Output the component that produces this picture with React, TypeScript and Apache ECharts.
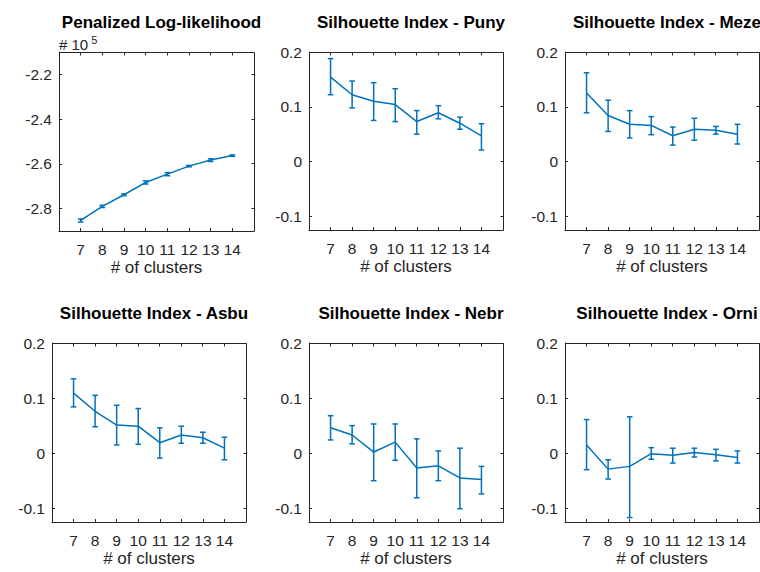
import React, { useEffect, useRef } from "react";
import * as echarts from "echarts";

const clusters = [7, 8, 9, 10, 11, 12, 13, 14];

// Penalized log-likelihood (in units of 10^5)
const llMean = [-2.853, -2.79, -2.738, -2.683, -2.646, -2.61, -2.583, -2.563];
const llLow = [-2.86, -2.795, -2.742, -2.69, -2.653, -2.613, -2.589, -2.566];
const llHigh = [-2.846, -2.785, -2.734, -2.676, -2.639, -2.607, -2.577, -2.56];

const punyMean = [0.154, 0.122, 0.11, 0.104, 0.073, 0.089, 0.07, 0.047];
const punyLow = [0.122, 0.098, 0.075, 0.073, 0.05, 0.078, 0.059, 0.021];
const punyHigh = [0.188, 0.147, 0.144, 0.133, 0.093, 0.102, 0.081, 0.069];

const mezeMean = [0.125, 0.084, 0.068, 0.066, 0.047, 0.059, 0.057, 0.05];
const mezeLow = [0.089, 0.055, 0.043, 0.049, 0.03, 0.039, 0.05, 0.032];
const mezeHigh = [0.162, 0.112, 0.093, 0.082, 0.063, 0.079, 0.064, 0.068];

const asbuMean = [0.109, 0.076, 0.051, 0.049, 0.019, 0.033, 0.028, 0.009];
const asbuLow = [0.084, 0.048, 0.015, 0.016, -0.009, 0.018, 0.018, -0.012];
const asbuHigh = [0.135, 0.105, 0.087, 0.081, 0.046, 0.049, 0.038, 0.029];

const nebrMean = [0.046, 0.033, 0.002, 0.02, -0.027, -0.023, -0.045, -0.048];
const nebrLow = [0.024, 0.017, -0.05, -0.013, -0.081, -0.05, -0.101, -0.074];
const nebrHigh = [0.068, 0.05, 0.053, 0.053, 0.026, 0.004, 0.009, -0.024];

const orniMean = [0.015, -0.029, -0.024, -0.001, -0.004, 0.001, -0.003, -0.008];
const orniLow = [-0.03, -0.047, -0.117, -0.011, -0.018, -0.007, -0.014, -0.018];
const orniHigh = [0.061, -0.012, 0.066, 0.01, 0.009, 0.009, 0.007, 0.004];

const siTicks = [-0.1, 0, 0.1, 0.2];
const llTicks = [-2.8, -2.6, -2.4, -2.2];

const titles = [
  "Penalized Log-likelihood",
  "Silhouette Index - Puny",
  "Silhouette Index - Meze",
  "Silhouette Index - Asbu",
  "Silhouette Index - Nebr",
  "Silhouette Index - Orni",
];
const xName = "# of clusters";

const FONT = "'Liberation Sans', Helvetica, Arial, sans-serif";
const AXIS = "#262626";
const BLUE = "#0072BD";
const X_MIN = 6;
const X_MAX = 15;

export default function App() {
  const ref = useRef<HTMLDivElement>(null);
  useEffect(() => {
    if (!ref.current) return;
    const chart = echarts.init(ref.current, null, { renderer: "svg" });

    const panels = [
      { mean: llMean, low: llLow, high: llHigh, ymin: -2.9, ymax: -2.1, ticks: llTicks, left: 59, top: 52, width: 195, height: 179 },
      { mean: punyMean, low: punyLow, high: punyHigh, ymin: -0.125, ymax: 0.2, ticks: siTicks, left: 309, top: 52, width: 194, height: 178 },
      { mean: mezeMean, low: mezeLow, high: mezeHigh, ymin: -0.125, ymax: 0.2, ticks: siTicks, left: 565, top: 52, width: 194, height: 178 },
      { mean: asbuMean, low: asbuLow, high: asbuHigh, ymin: -0.125, ymax: 0.2, ticks: siTicks, left: 52, top: 343, width: 194, height: 179 },
      { mean: nebrMean, low: nebrLow, high: nebrHigh, ymin: -0.125, ymax: 0.2, ticks: siTicks, left: 309, top: 343, width: 194, height: 179 },
      { mean: orniMean, low: orniLow, high: orniHigh, ymin: -0.125, ymax: 0.2, ticks: siTicks, left: 565, top: 343, width: 194, height: 179 },
    ];

    const grid: any[] = [];
    const xAxis: any[] = [];
    const yAxis: any[] = [];
    const series: any[] = [];
    const title: any[] = [];

    panels.forEach((p, i) => {
      grid.push({ left: p.left, top: p.top, width: p.width, height: p.height });
      xAxis.push({
        type: "value",
        gridIndex: i,
        min: X_MIN,
        max: X_MAX,
        position: "bottom",
        splitLine: { show: false },
        axisLine: { show: true, onZero: false, lineStyle: { color: AXIS, width: 1 } },
        axisTick: { show: true, inside: true, length: 3, customValues: clusters, lineStyle: { color: AXIS } },
        name: xName,
        nameLocation: "middle",
        nameGap: 28,
        nameTextStyle: { fontFamily: FONT, fontSize: 17, color: AXIS },
        axisLabel: { show: true, customValues: clusters, margin: 10, fontFamily: FONT, fontSize: 15.5, color: AXIS },
      });
      yAxis.push({
        type: "value",
        gridIndex: i,
        min: p.ymin,
        max: p.ymax,
        position: "left",
        splitLine: { show: false },
        axisLine: { show: true, lineStyle: { color: AXIS, width: 1 } },
        axisTick: { show: true, inside: true, length: 3, customValues: p.ticks, lineStyle: { color: AXIS } },
        axisLabel: {
          show: true,
          customValues: p.ticks,
          margin: 7,
          fontFamily: FONT,
          fontSize: 15.5,
          color: AXIS,
          formatter: (v: number) => String(Math.round(v * 1000) / 1000),
        },
      });

      series.push({
        type: "line",
        xAxisIndex: i,
        yAxisIndex: i,
        data: clusters.map((c, k) => [c, p.mean[k]]),
        symbol: "none",
        lineStyle: { color: BLUE, width: 1.5 },
        z: 3,
      });
      series.push({
        type: "custom",
        xAxisIndex: i,
        yAxisIndex: i,
        data: clusters.map((c, k) => [c, p.low[k], p.high[k]]),
        renderItem: (params: any, api: any) => {
          const x = api.value(0);
          const lo = api.coord([x, api.value(1)]);
          const hi = api.coord([x, api.value(2)]);
          const hw = 2.8;
          const st = { stroke: BLUE, lineWidth: 1.5 };
          return {
            type: "group",
            children: [
              { type: "line", shape: { x1: lo[0], y1: lo[1], x2: hi[0], y2: hi[1] }, style: st },
              { type: "line", shape: { x1: lo[0] - hw, y1: lo[1], x2: lo[0] + hw, y2: lo[1] }, style: st },
              { type: "line", shape: { x1: hi[0] - hw, y1: hi[1], x2: hi[0] + hw, y2: hi[1] }, style: st },
            ],
          };
        },
        encode: { x: 0, y: [1, 2] },
        z: 4,
      });

      title.push({
        text: titles[i],
        left: p.left + p.width / 2,
        top: i < 3 ? 9 : 300,
        textAlign: "center",
        textStyle: { fontFamily: FONT, fontSize: 17, fontWeight: "bold", color: "#000" },
      });
    });

    chart.setOption({
      animation: false,
      backgroundColor: "#ffffff",
      title,
      grid,
      xAxis,
      yAxis,
      series,
    });

    // Frame (top and right edges with inward ticks), positioned through the axes' own scales
    const snap = (v: number) => Math.round(v - 0.5) + 0.5;
    const frame: any[] = [];
    const lineStyle = { stroke: AXIS, lineWidth: 1, fill: "none" };
    panels.forEach((p, i) => {
      const finder = { xAxisIndex: i, yAxisIndex: i };
      const tl = chart.convertToPixel(finder, [X_MIN, p.ymax]) as number[];
      const br = chart.convertToPixel(finder, [X_MAX, p.ymin]) as number[];
      const l = snap(tl[0]);
      const t = snap(tl[1]);
      const r = snap(br[0]);
      const b = snap(br[1]);
      frame.push({
        type: "polyline",
        silent: true,
        z: 50,
        shape: { points: [[l, t], [r, t], [r, b]] },
        style: lineStyle,
      });
      clusters.forEach((c) => {
        const x = snap((chart.convertToPixel(finder, [c, p.ymax]) as number[])[0]);
        frame.push({ type: "line", silent: true, z: 50, shape: { x1: x, y1: t, x2: x, y2: t + 3 }, style: lineStyle });
      });
      p.ticks.forEach((v) => {
        const y = snap((chart.convertToPixel(finder, [X_MAX, v]) as number[])[1]);
        frame.push({ type: "line", silent: true, z: 50, shape: { x1: r, y1: y, x2: r - 3, y2: y }, style: lineStyle });
      });
    });

    chart.setOption({
      graphic: [
        {
          type: "text",
          left: 59,
          top: 34,
          style: {
            text: "{b|# 10}{s| 5}",
            rich: {
              b: { fontFamily: FONT, fontSize: 15, fill: AXIS, verticalAlign: "bottom", lineHeight: 18 },
              s: { fontFamily: FONT, fontSize: 11, fill: AXIS, verticalAlign: "top", lineHeight: 10, padding: [0, 0, 8, 0] },
            },
          },
        },
        ...frame,
      ],
    });
    return () => chart.dispose();
  }, []);
  return (
    <div
      ref={ref}
      style={{ position: "fixed", left: 0, top: 0, width: 760, height: 572, background: "#fff" }}
    />
  );
}
